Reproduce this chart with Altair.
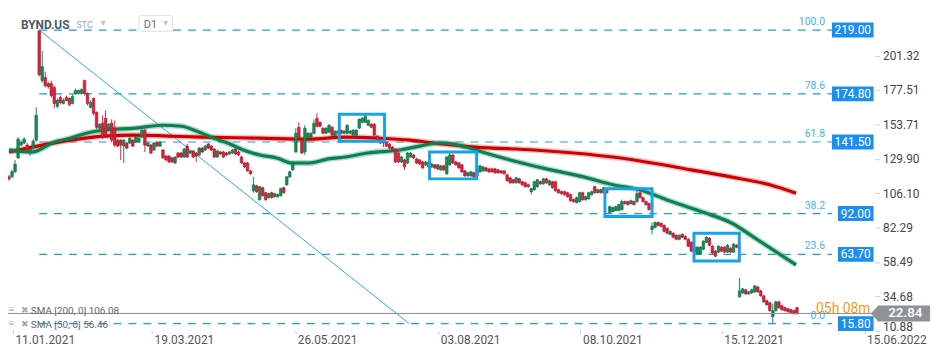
import altair as alt
import pandas as pd

# ---------------- data ----------------
opens = [117.4,117.4,120.9,130.5,139.4,140.8,139.4,133.9,137.3,142.8,
         218.3,184.0,186.1,181.9,181.9,179.2,166.2,172.3,168.2,172.3,
         171.6,168.2,175.1,175.1,175.1,184.0,175.1,165.5,171.6,162.0,
         151.1,154.5,157.9,151.1,154.5,151.1,142.8,142.8,138.7,140.8,
         140.8,142.8,141.4,141.4,144.9,149.7,138.7,139.4,136.0,141.4,
         138.7,136.0,131.8,131.8,130.5,127.0,133.9,133.9,131.1,138.7,
         133.9,135.3,133.9,132.5,137.3,136.0,140.1,138.7,136.6,131.1,
         134.6,134.6,133.9,133.2,133.9,136.6,134.6,131.1,127.0,127.0,
         121.5,107.8,111.2,101.6,109.9,106.4,103.0,106.4,103.7,103.7,
         104.4,109.9,111.9,117.4,122.2,134.6,151.7,142.8,134.6,144.9,
         144.9,147.6,157.9,155.2,151.1,147.6,148.3,151.7,145.6,147.6,
         149.7,147.6,147.6,147.6,146.3,146.3,151.1,155.2,155.2,153.1,
         153.8,153.8,145.6,140.8,143.5,141.4,140.1,138.0,136.6,133.9,
         127.7,129.1,127.0,131.1,132.5,129.8,129.1,127.7,125.7,124.3,
         124.3,125.7,125.7,122.2,125.0,119.5,125.7,132.5,127.7,127.0,
         125.7,121.5,118.1,118.1,120.2,118.1,120.9,121.5,123.6,122.9,
         122.9,122.9,122.2,121.5,121.5,118.8,116.7,115.4,113.3,116.0,
         114.0,113.3,111.9,107.1,108.5,110.6,114.0,112.6,116.0,111.9,
         114.0,114.0,108.5,107.1,107.1,106.4,105.1,101.6,99.6,100.3,
         106.4,101.6,102.3,105.1,110.6,106.4,108.5,106.4,109.2,92.7,
         93.4,94.1,94.1,94.8,100.3,100.3,98.9,100.3,100.3,106.4,
         103.0,100.3,98.9,81.0,82.4,85.8,85.2,83.8,81.7,77.6,
         78.3,76.9,74.2,77.6,76.2,74.2,72.1,68.7,63.9,63.9,
         67.3,72.1,74.9,69.4,66.0,65.3,68.7,68.7,65.3,68.0,
         65.3,70.1,34.4,37.1,39.2,36.4,37.1,37.8,41.2,38.5,
         35.0,31.6,30.2,20.6,24.8,30.9,28.2,26.8,26.1,25.4,
         24.8,26.8]
highs = [118.8,122.2,129.1,144.9,142.8,144.9,140.8,137.3,143.5,165.5,
         219.0,204.6,190.2,183.3,184.0,180.6,171.6,173.7,171.6,173.7,
         172.3,174.4,178.5,177.8,178.5,184.7,175.8,170.3,172.3,162.7,
         154.5,160.0,163.4,154.5,157.2,156.5,143.5,143.5,143.5,141.4,
         144.9,143.5,145.6,144.9,151.1,150.4,141.4,140.1,141.4,142.1,
         142.1,136.6,132.5,132.5,131.1,131.8,134.6,134.6,137.3,140.1,
         136.0,136.0,134.6,138.0,138.0,139.4,140.8,139.4,137.3,136.0,
         135.3,135.3,134.6,135.3,136.6,137.3,135.3,131.8,127.7,127.7,
         122.2,117.4,111.9,111.2,110.6,107.1,106.4,107.1,106.4,105.8,
         109.9,110.6,118.1,121.5,128.4,151.1,155.2,143.5,153.1,148.3,
         148.3,157.2,161.4,155.8,151.7,151.7,153.8,152.4,149.7,149.7,
         150.4,149.7,153.8,149.7,150.4,150.4,157.9,158.6,161.4,157.2,
         154.5,154.5,146.3,143.5,144.2,142.1,140.8,138.7,137.3,134.6,
         131.8,129.8,134.6,134.6,133.2,130.5,129.8,128.4,128.4,128.4,
         127.0,126.3,126.3,125.7,125.7,131.8,134.6,133.2,128.4,127.7,
         126.3,122.2,120.9,121.5,120.9,122.9,125.7,125.0,124.3,123.6,
         123.6,123.6,122.9,122.2,122.2,119.5,117.4,116.0,117.4,116.7,
         114.7,114.0,112.6,109.9,114.7,116.0,114.7,116.7,116.7,115.4,
         114.7,114.7,109.2,107.8,107.8,107.1,105.8,102.3,103.7,107.1,
         107.1,104.4,107.1,107.8,111.2,109.2,109.2,110.6,109.9,97.5,
         96.8,97.5,98.9,101.6,100.9,100.9,101.6,100.9,107.8,107.8,
         103.7,100.9,99.6,85.8,86.5,86.5,85.8,84.5,82.4,80.4,
         79.0,77.6,77.6,78.3,76.9,74.9,72.8,69.4,69.4,69.4,
         73.5,76.2,75.6,70.1,66.6,70.1,69.4,69.4,70.8,68.7,
         71.5,70.8,47.4,40.5,39.9,38.5,39.9,42.6,41.9,39.2,
         35.7,32.3,30.9,29.6,31.6,31.6,28.9,27.5,26.8,26.1,
         25.4,27.5]
lows = [114.7,116.7,120.2,129.8,138.7,140.1,135.3,131.8,136.0,141.4,
        186.8,182.6,179.2,178.5,172.3,164.8,164.8,167.5,167.5,169.6,
        166.2,167.5,174.4,174.4,174.4,173.7,166.8,164.8,160.0,150.4,
        150.4,143.5,144.2,150.4,141.4,138.0,138.0,129.1,127.0,136.6,
        140.1,138.0,140.8,140.8,144.2,134.6,138.0,133.2,135.3,138.0,
        138.0,129.8,128.4,127.0,127.0,126.3,130.5,130.5,130.5,130.5,
        133.2,130.5,127.7,131.8,133.9,135.3,136.6,135.3,130.5,130.5,
        132.5,130.5,131.8,132.5,133.2,132.5,131.8,126.3,123.6,120.9,
        118.8,106.4,106.4,100.9,103.7,100.9,102.3,102.3,103.0,103.0,
        103.7,105.8,111.2,116.7,121.5,133.9,144.2,133.2,132.5,144.2,
        144.2,146.9,151.7,151.7,146.9,146.9,147.6,145.6,144.9,146.9,
        146.9,146.9,146.9,146.9,145.6,145.6,150.4,154.5,154.5,152.4,
        151.1,145.6,142.1,140.1,138.0,138.0,136.6,135.3,127.0,127.0,
        127.0,122.2,126.3,130.5,129.8,126.3,125.7,122.9,125.0,123.6,
        123.6,122.9,122.2,121.5,121.5,118.8,125.0,126.3,125.0,122.9,
        120.2,117.4,117.4,117.4,116.7,117.4,120.2,120.9,120.9,120.2,
        120.2,119.5,119.5,119.5,118.8,114.0,112.6,112.6,112.6,112.6,
        111.2,109.9,109.9,105.1,107.8,109.9,111.9,111.9,112.6,111.2,
        109.2,107.1,105.8,105.1,104.4,103.0,100.3,99.6,98.9,99.6,
        100.9,100.9,101.6,104.4,105.8,105.8,105.8,105.8,105.8,92.0,
        92.7,93.4,93.4,94.1,98.2,97.5,98.2,97.5,99.6,102.3,
        99.6,97.5,94.1,77.6,81.7,83.1,82.4,79.0,77.6,76.9,
        74.9,73.5,73.5,74.9,73.5,68.7,65.3,64.6,63.2,63.2,
        66.6,71.5,69.4,63.9,61.8,64.6,65.3,64.6,64.6,64.6,
        64.6,68.0,33.7,36.4,35.7,35.7,36.4,37.1,37.1,34.4,
        30.2,28.2,24.1,15.8,24.1,26.1,24.8,24.1,23.4,22.7,
        22.0,22.0]
closes = [116.0,120.9,126.3,143.5,141.4,143.5,136.6,136.6,142.1,160.0,
          188.1,193.6,180.6,179.9,173.7,168.2,170.3,168.9,170.3,170.3,
          167.5,173.0,177.1,177.1,177.8,175.1,168.2,168.9,161.4,151.7,
          153.8,144.9,145.6,153.8,142.8,139.4,138.7,139.4,142.8,137.3,
          144.2,138.7,144.9,144.2,149.7,139.4,140.8,133.9,140.8,138.7,
          141.4,130.5,129.1,127.7,127.7,131.1,131.1,131.1,136.6,131.1,
          135.3,131.1,131.8,137.3,134.6,138.7,137.3,136.0,131.1,135.3,
          133.2,131.1,132.5,134.6,136.0,133.2,132.5,127.0,124.3,121.5,
          119.5,111.9,107.1,110.6,104.4,101.6,105.8,103.0,105.8,105.1,
          109.2,106.4,117.4,120.9,127.0,147.6,144.9,133.9,151.1,147.6,
          147.6,154.5,152.4,152.4,147.6,151.1,153.1,146.3,149.0,149.0,
          147.6,149.0,153.1,149.0,149.7,149.7,157.2,157.9,159.3,156.5,
          151.7,146.3,142.8,142.8,140.8,138.7,137.3,136.0,127.7,127.7,
          131.1,124.3,133.9,133.9,130.5,127.0,126.3,123.6,127.7,127.7,
          126.3,123.6,122.9,125.0,122.2,131.1,132.5,127.0,125.7,123.6,
          120.9,118.1,120.2,120.9,117.4,122.2,125.0,124.3,121.5,120.9,
          120.9,120.2,120.2,120.2,119.5,114.7,113.3,113.3,116.7,113.3,
          111.9,110.6,110.6,109.2,114.0,115.4,112.6,116.0,113.3,114.7,
          109.9,107.8,106.4,105.8,105.1,103.7,100.9,100.3,103.0,106.4,
          101.6,103.7,106.4,107.1,106.4,108.5,106.4,109.9,106.4,96.8,
          96.1,96.8,98.2,100.3,98.9,98.2,100.9,98.2,105.8,103.0,
          100.3,98.2,94.8,83.1,85.8,83.8,83.1,79.7,78.3,79.7,
          75.6,74.2,76.9,75.6,74.2,69.4,66.0,65.3,68.7,68.7,
          72.8,75.6,70.1,64.6,62.5,69.4,66.0,65.3,70.1,65.3,
          70.8,68.7,38.5,39.9,36.4,37.8,39.2,41.9,37.8,35.0,
          30.9,28.9,24.8,24.8,30.9,26.8,25.4,24.8,24.1,23.4,
          22.7,22.84]

sma200_idx = [0, 9.4, 20.5, 31.2, 41.9, 52.9, 63.6, 83.1, 99.4, 111.4, 122.1,
              132.8, 140.6, 154.5, 174.0, 187.0, 200.0, 213.0, 226.0, 239.0, 252.0, 260.7]
sma200_val = [134.6, 138.7, 142.8, 145.6, 146.3, 145.6, 144.9, 144.2, 143.5, 144.9, 144.2,
              142.8, 140.8, 138.0, 136.0, 133.9, 131.1, 127.0, 122.2, 117.4, 111.9, 106.08]

sma50_idx = [0, 7.8, 14.9, 20.5, 25.6, 31.2, 41.9, 50.6, 57.1, 61.4, 66.9, 72.4, 77.6,
             83.1, 88.6, 93.8, 99.4, 105.8, 111.4, 118.8, 129.5, 136.0, 142.5, 147.1,
             151.3, 157.8, 168.5, 179.5, 190.3, 200.0, 208.8, 219.5, 230.2, 239.0, 247.7, 260.7]
sma50_val = [135.9, 134.6, 141.4, 144.2, 147.6, 149.7, 151.1, 153.1, 152.4, 149.7, 144.9,
             140.8, 136.0, 132.5, 130.5, 127.0, 127.0, 129.8, 131.1, 133.9, 136.0, 138.7,
             140.8, 140.1, 138.0, 133.9, 127.7, 122.2, 117.4, 111.9, 108.5, 100.3, 92.7,
             85.8, 74.2, 56.46]

fib_levels = [219.00, 174.80, 141.50, 92.00, 63.70, 15.80]
fib_pcts = ["100.0", "78.6", "61.8", "38.2", "23.6", "0.0"]
fib_start = 10

price_ticks = [201.32, 177.51, 153.71, 129.90, 106.10, 82.29, 58.49, 34.68, 10.88]
date_ticks = [1.3, 47.4, 94.8, 142.2, 189.3, 236.1, 283.4]
date_labels = ["11.01.2021", "19.03.2021", "26.05.2021", "03.08.2021",
               "08.10.2021", "15.12.2021", "15.06.2022"]

box_i0 = [109.4, 139.3, 197.4, 226.9]
box_i1 = [124.4, 154.9, 213.0, 241.9]
box_top = [160.7, 134.6, 109.2, 78.3]
box_bot = [142.1, 116.0, 90.0, 59.1]

trend_idx = [10, 132.5]
trend_val = [219.0, 15.9]

last_price = 22.84
countdown = "05h 08m"

# ---------------- styling ----------------
GREEN = "#1a8a57"
RED = "#d6243a"
GREEN_EDGE = "#0f6b40"
RED_EDGE = "#a8142a"
FIB = "#14a0f0"
FIB_TXT = "#45b4f2"
BOX = "#1a8ff0"
FONT = "Roboto"

X_SCALE = alt.Scale(domain=[1.2987, 285.065], nice=False, zero=False)
Y_SCALE = alt.Scale(domain=[10.88, 233.24], nice=False, zero=False)

label_expr = ("[" + ",".join("'%s'" % d for d in date_labels) + "][indexof(["
              + ",".join(str(t) for t in date_ticks) + "], datum.value)]")

X_AXIS = alt.Axis(values=date_ticks, labelExpr=label_expr, labelAlign="left", labelOffset=2,
                  tickSize=3, tickColor="#c8c8c8", domain=False, grid=False, labelColor="#555",
                  labelFontSize=12, labelFont=FONT, labelPadding=1, title=None,
                  labelOverlap=False, labelBound=False, labelFlush=False)
Y_AXIS = alt.Axis(orient="right", values=price_ticks, format=".2f", tickSize=5,
                  tickColor="#d0d0d0", domain=False, grid=False, labelColor="#474747",
                  labelFontSize=12, labelFont=FONT, labelPadding=3, title=None,
                  labelFlush=True, labelFlushOffset=3, labelOverlap=False)


def X(f):
    return alt.X(f, type="quantitative", scale=X_SCALE, axis=X_AXIS)


def Y(f):
    return alt.Y(f, type="quantitative", scale=Y_SCALE, axis=Y_AXIS)


candles = pd.DataFrame({"i": list(range(len(opens))), "o": opens, "h": highs,
                        "l": lows, "c": closes})
candles["dir"] = ["up" if c >= o else "down" for o, c in zip(opens, closes)]
color = alt.Color("dir:N", scale=alt.Scale(domain=["up", "down"], range=[GREEN, RED]),
                  legend=None)
edge = alt.Stroke("dir:N", scale=alt.Scale(domain=["up", "down"], range=[GREEN_EDGE, RED_EDGE]),
                  legend=None)

dummy = pd.DataFrame({"a": [0]})

fib_df = pd.DataFrame({"level": fib_levels, "pct": fib_pcts,
                       "start": [fib_start] * len(fib_levels),
                       "lab": ["%.2f" % v for v in fib_levels]})
fib_wide = fib_df[fib_df["lab"].str.len() >= 6]
fib_narrow = fib_df[fib_df["lab"].str.len() < 6]

fib_lines = alt.Chart(fib_df).mark_rule(strokeDash=[8, 7], strokeWidth=1.2, color=FIB).encode(
    x=X("start"), x2=alt.value(831), y=Y("level"))
fib_pct = alt.Chart(fib_df).mark_text(align="right", baseline="middle", dy=-8, fontSize=10.5,
                                      font=FONT, color=FIB_TXT).encode(
    x=alt.value(824), y=Y("level"), text="pct:N")
box_w = alt.Chart(fib_wide).mark_rule(strokeWidth=15, strokeCap="butt", color=BOX).encode(
    x=alt.value(831), x2=alt.value(873), y=Y("level"))
box_n = alt.Chart(fib_narrow).mark_rule(strokeWidth=15, strokeCap="butt", color=BOX).encode(
    x=alt.value(837), x2=alt.value(873), y=Y("level"))
box_w_t = alt.Chart(fib_wide).mark_text(color="white", fontSize=12, font=FONT,
                                        baseline="middle").encode(
    x=alt.value(852), y=Y("level"), text="lab:N")
box_n_t = alt.Chart(fib_narrow).mark_text(color="white", fontSize=12, font=FONT,
                                          baseline="middle").encode(
    x=alt.value(855), y=Y("level"), text="lab:N")

trend = alt.Chart(pd.DataFrame({"i": trend_idx, "p": trend_val})).mark_line(
    color="#2aa8ee", strokeWidth=1).encode(x=X("i"), y=Y("p"))

sma200 = pd.DataFrame({"i": sma200_idx, "p": sma200_val})
sma50 = pd.DataFrame({"i": sma50_idx, "p": sma50_val})
s200_halo = alt.Chart(sma200).mark_line(color="#e05555", strokeWidth=6, opacity=0.35,
                                        interpolate="monotone").encode(x=X("i"), y=Y("p"))
s200 = alt.Chart(sma200).mark_line(color="#cf0000", strokeWidth=3.2,
                                   interpolate="monotone").encode(x=X("i"), y=Y("p"))
s50_halo = alt.Chart(sma50).mark_line(color="#3fa077", strokeWidth=6, opacity=0.4,
                                      interpolate="monotone").encode(x=X("i"), y=Y("p"))
s50 = alt.Chart(sma50).mark_line(color="#0b8050", strokeWidth=3.2,
                                 interpolate="monotone").encode(x=X("i"), y=Y("p"))

wicks = alt.Chart(candles).mark_rule(strokeWidth=1).encode(
    x=X("i"), y=Y("l"), y2="h:Q", color=color)
bodies = alt.Chart(candles).mark_bar(size=2.6, strokeWidth=0.6).encode(
    x=X("i"), y=Y("o"), y2="c:Q", color=color, stroke=edge)

boxes = alt.Chart(pd.DataFrame({"i0": box_i0, "i1": box_i1, "t": box_top, "b": box_bot})).mark_rect(
    fill=None, stroke="#19a2e8", strokeWidth=3).encode(
    x=X("i0"), x2="i1:Q", y=Y("t"), y2="b:Q")

lp = pd.DataFrame({"p": [last_price], "lab": ["%.2f" % last_price], "cd": [countdown]})
price_line = alt.Chart(lp).mark_rule(color="#8e8e8e", strokeWidth=1).encode(
    x=alt.value(0), x2=alt.value(874), y=Y("p"))
cd_text = alt.Chart(lp).mark_text(align="left", baseline="middle", dy=-4, fontSize=14,
                                  font=FONT, color="#f39a1e").encode(
    x=alt.value(815), y=Y("p"), text="cd:N")
tag = alt.Chart(lp).mark_rule(strokeWidth=16, strokeCap="butt", color="#8d9396").encode(
    x=alt.value(877), x2=alt.value(930), y=Y("p"))
tag_tip = alt.Chart(lp).mark_point(shape="M -0.5 0 L 0.5 -1 L 0.5 1 Z", size=256, filled=True,
                                   opacity=1, color="#8d9396").encode(
    x=alt.value(874), y=Y("p"))
tag_t = alt.Chart(lp).mark_text(color="white", fontSize=13.5, font=FONT, baseline="middle",
                                fontWeight=500).encode(
    x=alt.value(905), y=Y("p"), text="lab:N")


def txt(t, x, y, **kw):
    return alt.Chart(dummy).mark_text(text=t, font=FONT, baseline="middle", align="left",
                                      **kw).encode(x=alt.value(x), y=alt.value(y))


def tri(x, y, size=28):
    return alt.Chart(dummy).mark_point(shape="triangle-down", filled=True, size=size,
                                       color="#bfc4c8", opacity=1).encode(
        x=alt.value(x), y=alt.value(y))


d1_box = alt.Chart(dummy).mark_rect(fill="white", stroke="#dde1e4", strokeWidth=1,
                                    cornerRadius=3).encode(
    x=alt.value(132), x2=alt.value(166), y=alt.value(6), y2=alt.value(22))

header = [
    txt("BYND.US", 13, 15.5, fontSize=12, fontWeight="bold", color="#4f5963"),
    txt("STC", 69, 16, fontSize=9, color="#9aa3aa"),
    tri(96, 14),
    d1_box,
    txt("D1", 137, 15.5, fontSize=11, color="#6a6f73"),
    tri(159, 14),
]

legend = [
    txt("\u2261", 0, 303.5, fontSize=11, color="#a9a9a9"),
    txt("\u2716", 13, 303.5, fontSize=9, color="#a9a9a9"),
    txt("SMA [200, 0] %.2f" % sma200_val[-1], 23, 304, fontSize=10, color="#666"),
    txt("\u2261", 0, 317.5, fontSize=11, color="#a9a9a9"),
    txt("\u2716", 13, 317.5, fontSize=9, color="#a9a9a9"),
    txt("SMA [50, 0] %.2f" % sma50_val[-1], 23, 318, fontSize=10, color="#666"),
]

chart = alt.layer(
    wicks, fib_lines, trend, s200_halo, s50_halo, s200, s50, bodies, boxes,
    price_line, fib_pct, box_w, box_n, box_w_t, box_n_t, cd_text, tag, tag_tip, tag_t,
    *header, *legend
).properties(
    width=874, height=324,
    autosize=alt.AutoSizeParams(type="none"),
    padding={"left": 0, "top": 0, "right": 67, "bottom": 26},
    background="white",
).configure_view(stroke=None)

chart.save("out.html", embed_options={"renderer": "svg", "actions": False})
